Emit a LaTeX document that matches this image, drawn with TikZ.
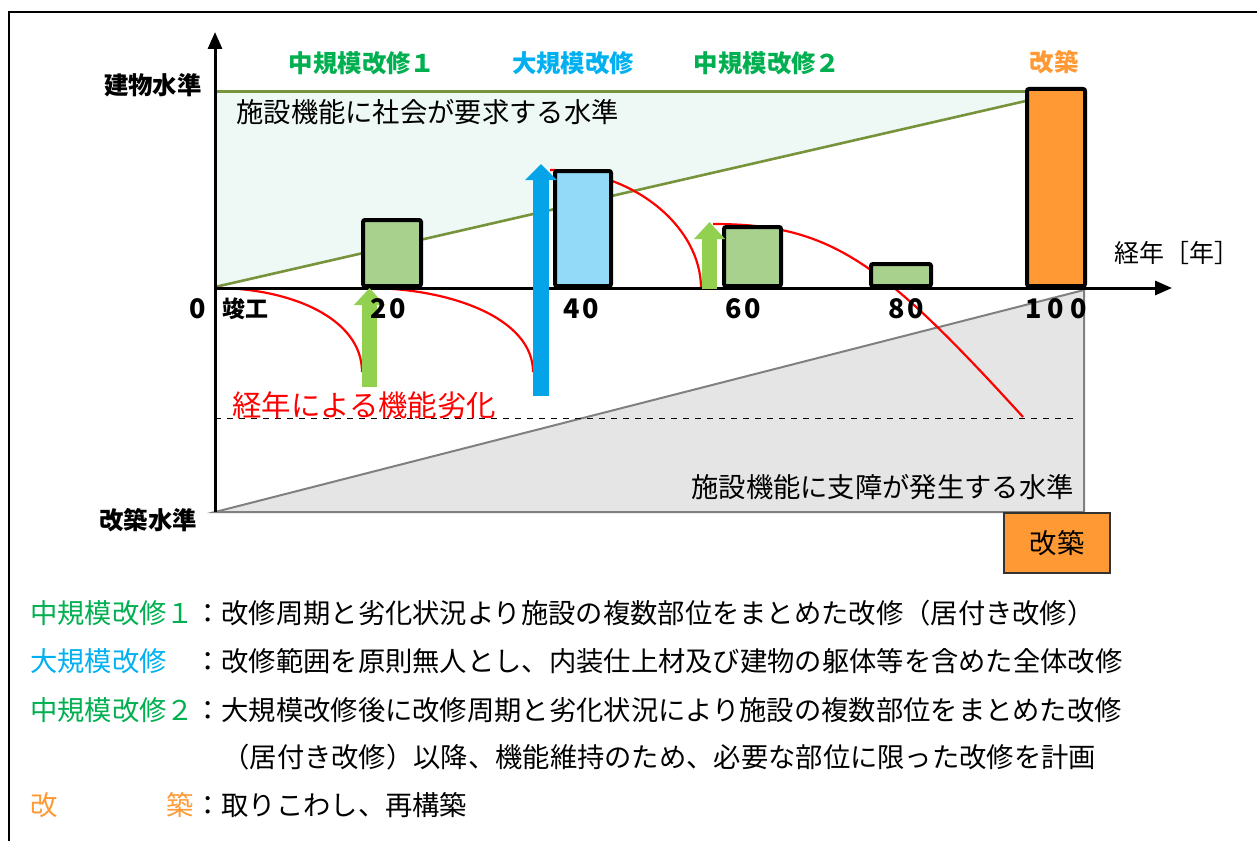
\documentclass[tikz,border=0pt]{standalone}
\usepackage{fontspec}
\setmainfont{Noto Sans CJK JP}
\usetikzlibrary{
	calc,
	arrows.meta,
	positioning
	}
\tikzset{font={\fontsize{13.65pt}{16pt}\selectfont}}
\definecolor{vert}{HTML}{00B050}
\definecolor{bleu}{HTML}{00B0F0}
\definecolor{orange}{HTML}{FF9933}
\definecolor{barvert}{HTML}{A9D18E}
\definecolor{barbleu}{HTML}{93D9F8}
\definecolor{flvert}{HTML}{92D050}
\definecolor{flbleu}{HTML}{05A3E8}
\definecolor{olive}{HTML}{77933C}
\definecolor{menthe}{HTML}{EEF9F5}
\definecolor{grisclair}{HTML}{E5E5E5}
\definecolor{grisfonce}{HTML}{808080}
\tikzstyle{barre-std}=[draw=black,line width=2pt,rounded corners=1pt,anchor=south west,inner sep=0pt]
\tikzstyle{axe}=[line width=1.5pt,-{Triangle[width=7pt,length=8.5pt]}]
\tikzstyle{fleche-verte}=[flvert,line width=7.5pt,-{Triangle[width=15pt,length=8.5pt]}]
\tikzstyle{fleche-bleue}=[flbleu,line width=8pt,-{Triangle[width=15.5pt,length=8pt]}]
\tikzstyle{courbe}=[red,line width=1.1pt]
\tikzstyle{titre}=[font={\fontsize{12.2pt}{14pt}\selectfont\bfseries},inner sep=0pt]
\tikzstyle{graduation}=[font={\fontsize{13.5pt}{14pt}\selectfont\bfseries},inner sep=0pt]
\tikzstyle{legende}=[anchor=west,inner sep=0pt]

\begin{document}
\begin{tikzpicture}[x=0.5pt,y=-0.5pt]
            \useasboundingbox (0,0) rectangle (1257,840);
            \draw[line width=1pt] (9,900) -- (9,12) -- (1300,12);
            %
            \fill[menthe] (215,92) -- (1030,92) -- (1030,100) -- (215,287) -- cycle;
            \filldraw[fill=grisclair, draw=grisfonce, line width=1pt] (215,512) -- (1084,290) -- (1084,512) -- cycle;
            \draw[olive, line width=1.5pt] (215,92) -- (1030,92);
            \draw[olive, line width=1.3pt] (215,287) -- (1030,100);
            \draw[dashed, line width=0.5pt] (215,418) -- (1075,418);

            \draw[courbe] (215,288) .. controls (290,288) and (362,318) .. (362,372);
            \draw[courbe] (367,288) .. controls (450,288) and (533,318) .. (533,372);
            \draw[courbe] (550,170) .. controls (635,170) and (701,228) .. (701,288);
            \draw[courbe] (713,224) .. controls (830,224) and (880,260) .. (1023,417);

            \coordinate (O) at (215,288);
            \coordinate (x-fin) at (1172,288);
            \coordinate (y-haut) at (215,32);
            \coordinate (y-bas) at (215,512);
            \draw[axe] (O) -- (x-fin);
            \draw[line width=1.5pt] (O) -- (y-bas);
            \draw[axe] (O) -- (y-haut);

            \node[barre-std, fill=barvert, minimum width=29pt, minimum height=33pt] (b20) at (361,288) {}; % 1
            \node[barre-std, fill=barbleu, minimum width=28pt, minimum height=57.5pt] (b40) at (553,288) {};
            \node[barre-std, fill=barvert, minimum width=28.5pt, minimum height=29.5pt] (b60) at (722,288) {};
            \node[barre-std, fill=barvert, minimum width=30pt, minimum height=11pt] (b80) at (869,288) {};
            \node[barre-std, fill=orange, minimum width=29pt, minimum height=98.5pt] (b100) at (1025,288) {};

            \coordinate (f1-bas) at (369.5,387);
            \coordinate (f1-haut) at (369.5,288);
            \coordinate (f2-bas) at (541,396);
            \coordinate (f2-haut) at (541,164);
            \coordinate (f3-bas) at (709.5,289);
            \coordinate (f3-haut) at (709.5,222);
            \draw[fleche-verte] (f1-bas) -- (f1-haut);
            \draw[fleche-bleue] (f2-bas) -- (f2-haut);
            \draw[fleche-verte] (f3-bas) -- (f3-haut);
            %
            \node[titre, vert] (t-m1) at (362,63) {中規模改修１};
            \node[titre, bleu] (t-gr) at (573,63) {大規模改修};
            \node[titre, vert] (t-m2) at (767,63) {中規模改修２};
            \node[titre, orange] (t-rc) at (1054,62) {改築};
            \node[titre, anchor=east] (t-bat) at (202,85) {建物水準};
            \node[titre] (t-rec) at (148,520) {改築水準};

            \node[anchor=west, inner sep=0pt] (t-soc) at (236,112) {施設機能に社会が要求する水準};
            \node[anchor=east, inner sep=0pt] (t-sup) at (1074,487) {施設機能に支障が発生する水準};
            \node[anchor=west, inner sep=0pt, red, font={\fontsize{14.7pt}{16pt}\selectfont}] (t-deg) at (232,405) {経年による機能劣化};
            \node[inner sep=0pt, font={\fontsize{12.5pt}{14pt}\selectfont}] (t-ans) at (1177,253) {経年［年］};

            \node[graduation] (g0) at (198,309) {0};
            \node[graduation, font={\fontsize{11.5pt}{14pt}\selectfont\bfseries}, anchor=west] (g-fin) at (222,309) {竣工};
            \node[graduation] (g20) at (388,309) {2\hspace{1.5pt}0};
            \node[graduation] (g40) at (581,309) {4\hspace{1.5pt}0};
            \node[graduation] (g60) at (743,309) {6\hspace{1.5pt}0};
            \node[graduation] (g80) at (906,309) {8\hspace{1.5pt}0};
            \node[graduation] (g100) at (1056,309) {1\hspace{3pt}0\hspace{3pt}0};

            \node[draw=black!80, line width=0.6pt, fill=orange, minimum width=53pt, minimum height=30pt, inner sep=0pt] (boite-rc) at (1057,543) {改築};

            \node[legende] (l1) at (30,613) {{\color{vert}中規模改修１}：改修周期と劣化状況より施設の複数部位をまとめた改修（居付き改修）};
            \node[legende] (l2) at (30,661) {{\color{bleu}大規模改修}　：改修範囲を原則無人とし、内装仕上材及び建物の躯体等を含めた全体改修};
            \node[legende] (l3) at (30,710) {{\color{vert}中規模改修２}：大規模改修後に改修周期と劣化状況により施設の複数部位をまとめた改修};
            \node[legende] (l4) at (222,757) {（居付き改修）以降、機能維持のため、必要な部位に限った改修を計画};
            \node[legende] (l5) at (30,805) {{\color{orange}改　　　　築}：取りこわし、再構築};
        \end{tikzpicture}
\end{document}
